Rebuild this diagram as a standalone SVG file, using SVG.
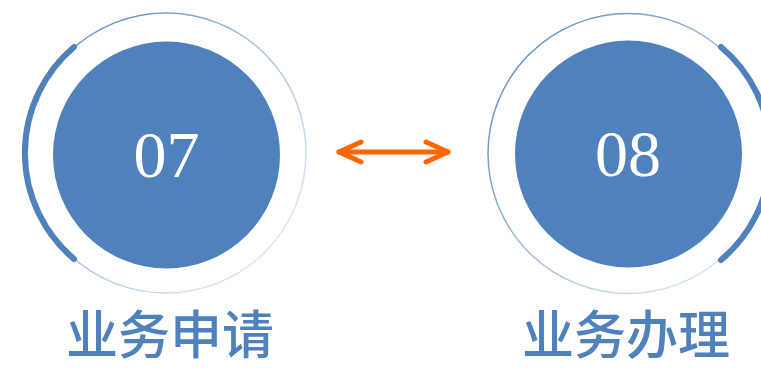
<svg xmlns="http://www.w3.org/2000/svg" width="761" height="368" viewBox="0 0 761 368">
  <defs>
    <linearGradient id="ringL" x1="0" y1="0" x2="1" y2="1">
      <stop offset="0" stop-color="#4f81bd"/>
      <stop offset="0.5" stop-color="#a9c0de"/>
      <stop offset="1" stop-color="#f2f5fa"/>
    </linearGradient>
    <linearGradient id="ringR" x1="0" y1="0" x2="1" y2="1">
      <stop offset="0" stop-color="#4f81bd"/>
      <stop offset="0.55" stop-color="#a9c0de"/>
      <stop offset="1" stop-color="#f2f5fa"/>
    </linearGradient>
  </defs>
  <style>
    .disc { fill: #4f81bd; }
    .arc { fill: none; stroke: #4f81bd; stroke-width: 6; stroke-linecap: round; }
    .num { fill: #ffffff; font-family: "Liberation Serif", serif; font-size: 66px; text-anchor: middle; }
    .label { fill: #4f81bd; font-family: "Noto Sans CJK SC", sans-serif; font-size: 52px; font-weight: 500; text-anchor: middle; }
    .conn { fill: none; stroke: #ff6600; stroke-width: 5; stroke-linecap: round; stroke-linejoin: round; }
  </style>
  <rect width="761" height="368" fill="#ffffff"/>
  <g id="node07">
    <circle cx="166" cy="153" r="140" fill="none" stroke="url(#ringL)" stroke-width="1.5"/>
    <path class="arc" d="M 74 47 A 139 139 0 0 0 74 259"/>
    <circle class="disc" cx="166.5" cy="155" r="113.5"/>
    <text class="num" x="166.5" y="177">07</text>
    <text class="label" x="170" y="354">业务申请</text>
  </g>
  <g id="node08">
    <circle cx="628" cy="153.5" r="140" fill="none" stroke="url(#ringR)" stroke-width="1.5"/>
    <path class="arc" d="M 721 47 A 139 139 0 0 1 721 260"/>
    <circle class="disc" cx="628.5" cy="154" r="113.5"/>
    <text class="num" x="628" y="176">08</text>
    <text class="label" x="626" y="354">业务办理</text>
  </g>
  <g id="connectors">
    <path class="conn" d="M 339 152 L 448 152"/>
    <path class="conn" d="M 361 142 L 339 152 L 361 162"/>
    <path class="conn" d="M 426 142 L 448 152 L 426 162"/>
  </g>
</svg>
